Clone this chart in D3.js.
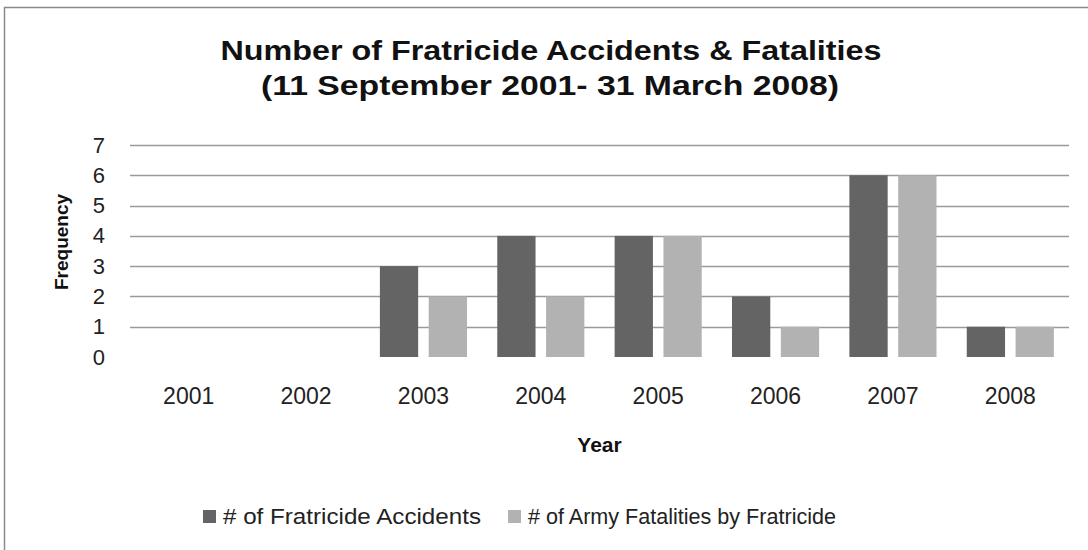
<!DOCTYPE html>
<html>
<head>
<meta charset="utf-8">
<script src="https://cdn.jsdelivr.net/npm/d3@7"></script>
<style>
  body { margin: 0; background: #fff; }
  text { font-family: "Liberation Sans", Arial, sans-serif; }
</style>
</head>
<body>
<div id="chart-area"></div>
<script>
var years = ["2001", "2002", "2003", "2004", "2005", "2006", "2007", "2008"];
var accidents = [0, 0, 3, 4, 4, 2, 6, 1];
var fatalities = [0, 0, 2, 2, 4, 1, 6, 1];
var seriesNames = ["# of Fratricide Accidents", "# of Army Fatalities by Fratricide"];
var seriesColors = ["#646464", "#b2b2b2"];
var yTicks = [0, 1, 2, 3, 4, 5, 6, 7];

var width = 1088;
var height = 550;
var margin = {top: 145, right: 19, bottom: 193, left: 130};
var innerW = width - margin.left - margin.right;
var innerH = height - margin.top - margin.bottom;

var svg = d3.select("#chart-area").append("svg")
  .attr("width", width)
  .attr("height", height);

// outer frame
svg.append("rect")
  .attr("x", 4.5)
  .attr("y", 7.5)
  .attr("width", width + 10)
  .attr("height", height + 10)
  .attr("fill", "none")
  .attr("stroke", "#8a8a8a")
  .attr("stroke-width", 1.5);

// title
var title = svg.append("text")
  .attr("text-anchor", "middle")
  .attr("font-size", "28px")
  .attr("font-weight", "bold")
  .attr("fill", "#111");
title.append("tspan").attr("x", 551).attr("y", 60)
  .attr("textLength", 661).attr("lengthAdjust", "spacingAndGlyphs")
  .text("Number of Fratricide  Accidents & Fatalities");
title.append("tspan").attr("x", 550).attr("y", 95)
  .attr("textLength", 578).attr("lengthAdjust", "spacingAndGlyphs")
  .text("(11 September 2001- 31 March 2008)");

var g = svg.append("g")
  .attr("transform", "translate(" + margin.left + "," + margin.top + ")");

var x0 = d3.scaleBand().domain(years).range([0, innerW]).padding(0);
var x1 = d3.scaleBand().domain([0, 1]).range([0, x0.bandwidth()])
  .paddingInner(0.216).paddingOuter(0.31);
var y = d3.scaleLinear().domain([0, 7]).range([innerH, 0]);

// gridlines
g.selectAll("line.grid")
  .data(yTicks.filter(function(d) { return d > 0; }))
  .enter().append("line")
  .attr("class", "grid")
  .attr("x1", 0).attr("x2", innerW)
  .attr("y1", function(d) { return Math.round(y(d)) + 0.5; })
  .attr("y2", function(d) { return Math.round(y(d)) + 0.5; })
  .attr("stroke", "#9a9a9a")
  .attr("stroke-width", 1.5);

// y tick labels
var leftAxis = d3.axisLeft(y).tickValues(yTicks).tickFormat(d3.format("d")).tickSize(0).tickPadding(25);
var yAxis = g.append("g").call(leftAxis);
yAxis.select(".domain").remove();
yAxis.selectAll("text")
  .attr("font-family", "Liberation Sans, Arial, sans-serif")
  .attr("font-size", "22px")
  .attr("fill", "#222");

// x tick labels
var bottomAxis = d3.axisBottom(x0).tickSize(0).tickPadding(31);
var xAxis = g.append("g").attr("transform", "translate(0," + innerH + ")").call(bottomAxis);
xAxis.select(".domain").remove();
xAxis.selectAll("text")
  .attr("font-family", "Liberation Sans, Arial, sans-serif")
  .attr("font-size", "23px")
  .attr("fill", "#222");

// bars
var rows = years.map(function(yr, i) { return {year: yr, values: [accidents[i], fatalities[i]]}; });
var groups = g.selectAll("g.year").data(rows).enter().append("g")
  .attr("class", "year")
  .attr("transform", function(d) { return "translate(" + x0(d.year) + ",0)"; });
groups.selectAll("rect")
  .data(function(d) { return d.values.map(function(v, k) { return {k: k, v: v}; }); })
  .enter().append("rect")
  .filter(function(d) { return d.v > 0; })
  .attr("x", function(d) { return x1(d.k); })
  .attr("y", function(d) { return y(d.v); })
  .attr("width", x1.bandwidth())
  .attr("height", function(d) { return innerH - y(d.v); })
  .attr("fill", function(d) { return seriesColors[d.k]; });

// axis titles
svg.append("text")
  .attr("x", margin.left + innerW / 2)
  .attr("y", 452)
  .attr("text-anchor", "middle")
  .attr("font-size", "21px")
  .attr("font-weight", "bold")
  .attr("fill", "#111")
  .text("Year");

svg.append("text")
  .attr("transform", "translate(68,242) rotate(-90)")
  .attr("text-anchor", "middle")
  .attr("font-size", "19px")
  .attr("font-weight", "bold")
  .attr("fill", "#111")
  .text("Frequency");

// legend
var legendX = [203, 508];
var legendLen = [258, 308];
seriesNames.forEach(function(name, i) {
  var row = svg.append("g").attr("transform", "translate(" + legendX[i] + ",510)");
  row.append("rect")
    .attr("width", 13).attr("height", 13)
    .attr("fill", seriesColors[i]);
  row.append("text")
    .attr("x", 20).attr("y", 14)
    .attr("font-size", "22px")
    .attr("fill", "#222")
    .attr("textLength", legendLen[i])
    .attr("lengthAdjust", "spacingAndGlyphs")
    .text(name);
});
</script>
</body>
</html>
